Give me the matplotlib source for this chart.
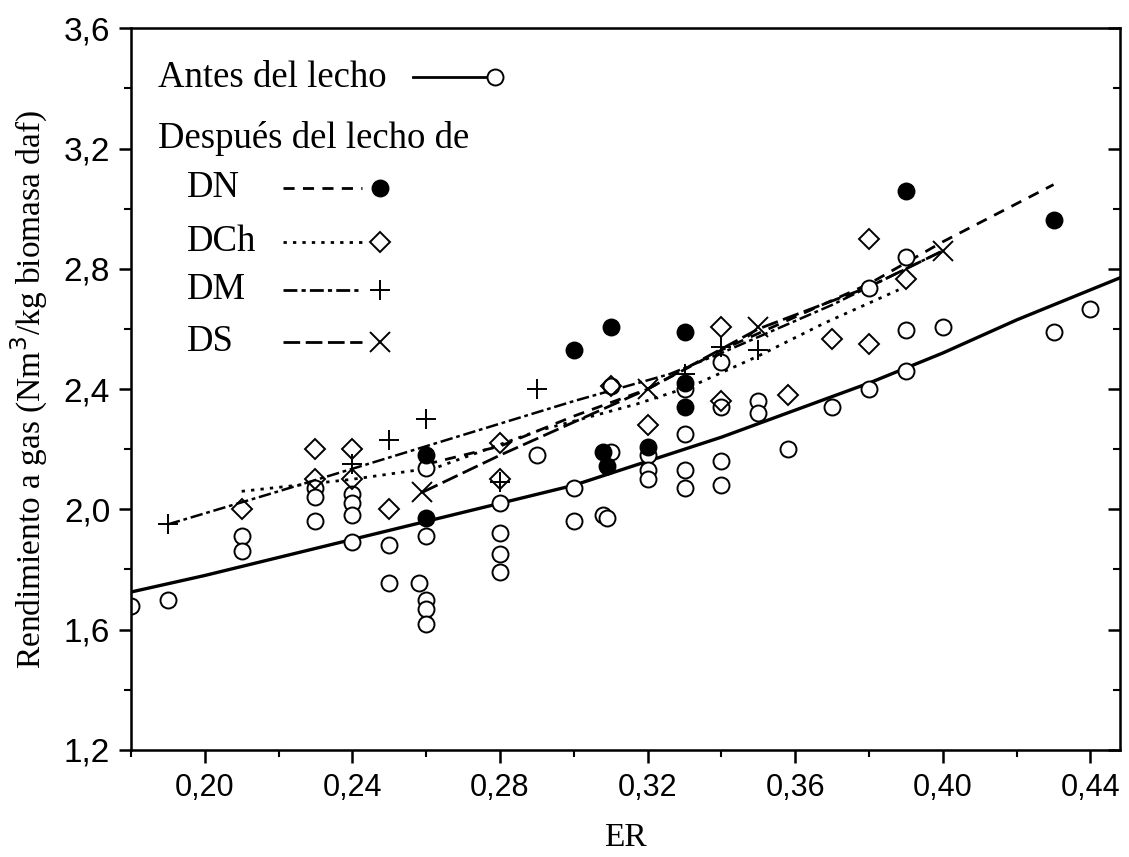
import matplotlib
matplotlib.use("Agg")
import matplotlib.pyplot as plt
from matplotlib.ticker import MultipleLocator, FuncFormatter
from matplotlib.lines import Line2D

# Antes del lecho (open circles)
antes_x = [0.18, 0.19, 0.21, 0.21, 0.23, 0.23, 0.23, 0.24, 0.24, 0.24, 0.24,
           0.25, 0.25, 0.258, 0.26, 0.26, 0.26, 0.26, 0.26, 0.28, 0.28, 0.28,
           0.28, 0.29, 0.30, 0.30, 0.31, 0.31, 0.308, 0.309, 0.32, 0.32, 0.32,
           0.33, 0.33, 0.33, 0.33, 0.34, 0.34, 0.34, 0.34, 0.35, 0.35, 0.358,
           0.37, 0.38, 0.38, 0.39, 0.39, 0.39, 0.40, 0.43, 0.44]
antes_y = [1.68, 1.70, 1.91, 1.86, 2.07, 2.04, 1.96, 2.05, 2.02, 1.98, 1.89,
           1.88, 1.755, 1.755, 2.137, 1.91, 1.70, 1.67, 1.62, 2.02, 1.92, 1.85,
           1.79, 2.18, 2.07, 1.96, 2.41, 2.19, 1.98, 1.97, 2.18, 2.13, 2.10,
           2.40, 2.25, 2.13, 2.07, 2.49, 2.34, 2.16, 2.08, 2.36, 2.32, 2.20,
           2.34, 2.735, 2.40, 2.84, 2.595, 2.46, 2.605, 2.59, 2.668]
antes_fit_x = [0.18, 0.20, 0.22, 0.24, 0.26, 0.28, 0.30, 0.32, 0.34, 0.36,
               0.38, 0.40, 0.42, 0.448]
antes_fit_y = [1.725, 1.78, 1.84, 1.90, 1.96, 2.02, 2.08, 2.16, 2.24, 2.33,
               2.42, 2.52, 2.63, 2.77]

# DN (filled circles)
dn_x = [0.26, 0.26, 0.30, 0.31, 0.308, 0.309, 0.32, 0.33, 0.33, 0.33, 0.39, 0.43]
dn_y = [2.18, 1.97, 2.53, 2.605, 2.19, 2.145, 2.207, 2.59, 2.42, 2.34, 3.06, 2.964]
dn_fit_x = [0.26, 0.28, 0.30, 0.32, 0.34, 0.36, 0.38, 0.40, 0.43]
dn_fit_y = [2.15, 2.21, 2.31, 2.40, 2.53, 2.64, 2.75, 2.89, 3.08]

# DCh (diamonds)
dch_x = [0.21, 0.23, 0.24, 0.23, 0.24, 0.25, 0.28, 0.28, 0.31, 0.32, 0.34,
         0.34, 0.358, 0.37, 0.38, 0.38, 0.39]
dch_y = [2.00, 2.20, 2.20, 2.10, 2.10, 2.00, 2.22, 2.10, 2.41, 2.28, 2.605,
         2.36, 2.38, 2.565, 2.90, 2.55, 2.765]
dch_fit_x = [0.21, 0.24, 0.263, 0.29, 0.317, 0.332, 0.35, 0.368, 0.388]
dch_fit_y = [2.06, 2.10, 2.14, 2.26, 2.35, 2.41, 2.51, 2.62, 2.73]

# DM (plus)
dm_x = [0.19, 0.24, 0.25, 0.26, 0.28, 0.29, 0.33, 0.34, 0.35]
dm_y = [1.95, 2.15, 2.23, 2.30, 2.09, 2.40, 2.45, 2.54, 2.53]
dm_fit_x = [0.19, 0.22, 0.26, 0.30, 0.326, 0.34, 0.37, 0.40]
dm_fit_y = [1.95, 2.06, 2.21, 2.36, 2.45, 2.52, 2.68, 2.86]

# DS (crosses)
ds_x = [0.259, 0.32, 0.35, 0.40]
ds_y = [2.057, 2.40, 2.605, 2.86]
ds_fit_x = [0.259, 0.28, 0.30, 0.32, 0.35, 0.38, 0.40]
ds_fit_y = [2.057, 2.18, 2.29, 2.40, 2.60, 2.74, 2.86]

serif = ['Liberation Serif', 'DejaVu Serif']
sans = ['Liberation Sans', 'DejaVu Sans']

fig = plt.figure(figsize=(11.29, 8.57), dpi=100)
ax = fig.add_axes([0.116, 0.125, 0.876, 0.842])

mk = dict(linestyle='none', color='black', markeredgewidth=1.4)

# fitted lines
ax.plot(antes_fit_x, antes_fit_y, '-', color='black', lw=2.4)
ax.plot(dn_fit_x, dn_fit_y, color='black', lw=2, dashes=(4, 3))
ax.plot(dch_fit_x, dch_fit_y, color='black', lw=2, dashes=(1.2, 2.2))
ax.plot(dm_fit_x, dm_fit_y, color='black', lw=1.8, dashes=(5, 1.5, 1.5, 1.5))
ax.plot(ds_fit_x, ds_fit_y, color='black', lw=2, dashes=(6, 2))

# points
ax.plot(antes_x, antes_y, marker='o', markersize=11.5, markerfacecolor='white', **mk)
ax.plot(dn_x, dn_y, marker='o', markersize=11.5, markerfacecolor='black', **mk)
ax.plot(dch_x, dch_y, marker='D', markersize=10.5, markerfacecolor='none', **mk)
ax.plot(dm_x, dm_y, marker='+', markersize=14, **mk)
ax.plot(ds_x, ds_y, marker='x', markersize=15, **mk)

ax.set_xlim(0.18, 0.448)
ax.set_ylim(1.2, 3.6)
ax.xaxis.set_major_locator(MultipleLocator(0.04))
ax.xaxis.set_minor_locator(MultipleLocator(0.02))
ax.yaxis.set_major_locator(MultipleLocator(0.4))
ax.yaxis.set_minor_locator(MultipleLocator(0.2))
ax.xaxis.set_major_formatter(FuncFormatter(lambda v, p: f"{v:.2f}".replace('.', ',')))
ax.yaxis.set_major_formatter(FuncFormatter(lambda v, p: f"{v:.1f}".replace('.', ',')))

for s in ax.spines.values():
    s.set_linewidth(1.8)

ax.tick_params(axis='both', which='major', direction='out', length=9, width=1.8)
ax.tick_params(axis='both', which='minor', direction='out', length=5, width=1.5)
ax.tick_params(axis='x', which='major', pad=8)
ax.tick_params(axis='y', which='major', pad=6)
for lab in ax.get_xticklabels():
    lab.set_fontfamily(sans)
    lab.set_fontsize(22)
for lab in ax.get_yticklabels():
    lab.set_fontfamily(sans)
    lab.set_fontsize(24)

# right axis: ticks pointing inward, no labels
ax_r = ax.twinx()
ax_r.set_ylim(ax.get_ylim())
ax_r.yaxis.set_major_locator(MultipleLocator(0.4))
ax_r.yaxis.set_minor_locator(MultipleLocator(0.2))
ax_r.tick_params(axis='y', which='major', direction='in', length=9, width=1.8, labelright=False)
ax_r.tick_params(axis='y', which='minor', direction='in', length=5, width=1.5)

ax.set_xlabel('ER', fontfamily=serif, fontsize=24, labelpad=14)
ax.set_ylabel('Rendimiento a gas (Nm$^3$/kg biomasa daf)', fontfamily=serif,
              fontsize=24, labelpad=10)


# legend drawn by hand: text first, then line sample and marker
def fx(px):
    return (px - 131) / 982.0


def fy(py):
    return (750 - py) / 722.0


tkw = dict(transform=ax.transAxes, fontfamily=serif, fontsize=26.5, va='center', ha='left')
ax.text(fx(158), fy(77), 'Antes del lecho', **tkw)
ax.text(fx(158), fy(138), 'Después del lecho de', **tkw)
rows = [('DN', 188, dict(dashes=(4, 3)), dict(marker='o', markerfacecolor='black', markersize=11.5)),
        ('DCh', 242, dict(dashes=(1.2, 2.2)), dict(marker='D', markerfacecolor='none', markersize=10.5)),
        ('DM', 290, dict(dashes=(5, 1.5, 1.5, 1.5)), dict(marker='+', markersize=14)),
        ('DS', 342, dict(dashes=(6, 2)), dict(marker='x', markersize=15))]
ax.add_line(Line2D([fx(411), fx(485)], [fy(77), fy(77)], transform=ax.transAxes,
                   color='black', lw=2))
ax.add_line(Line2D([fx(492)], [fy(77)], transform=ax.transAxes, marker='o',
                   markersize=11.5, markerfacecolor='white', **mk))
for name, py, ls, mks in rows:
    ax.text(fx(187), fy(py), name, **tkw)
    ax.add_line(Line2D([fx(282), fx(360)], [fy(py), fy(py)], transform=ax.transAxes,
                       color='black', lw=2, **ls))
    ax.add_line(Line2D([fx(378)], [fy(py)], transform=ax.transAxes, **mks, **mk))

fig.savefig('out.png', dpi=100)
